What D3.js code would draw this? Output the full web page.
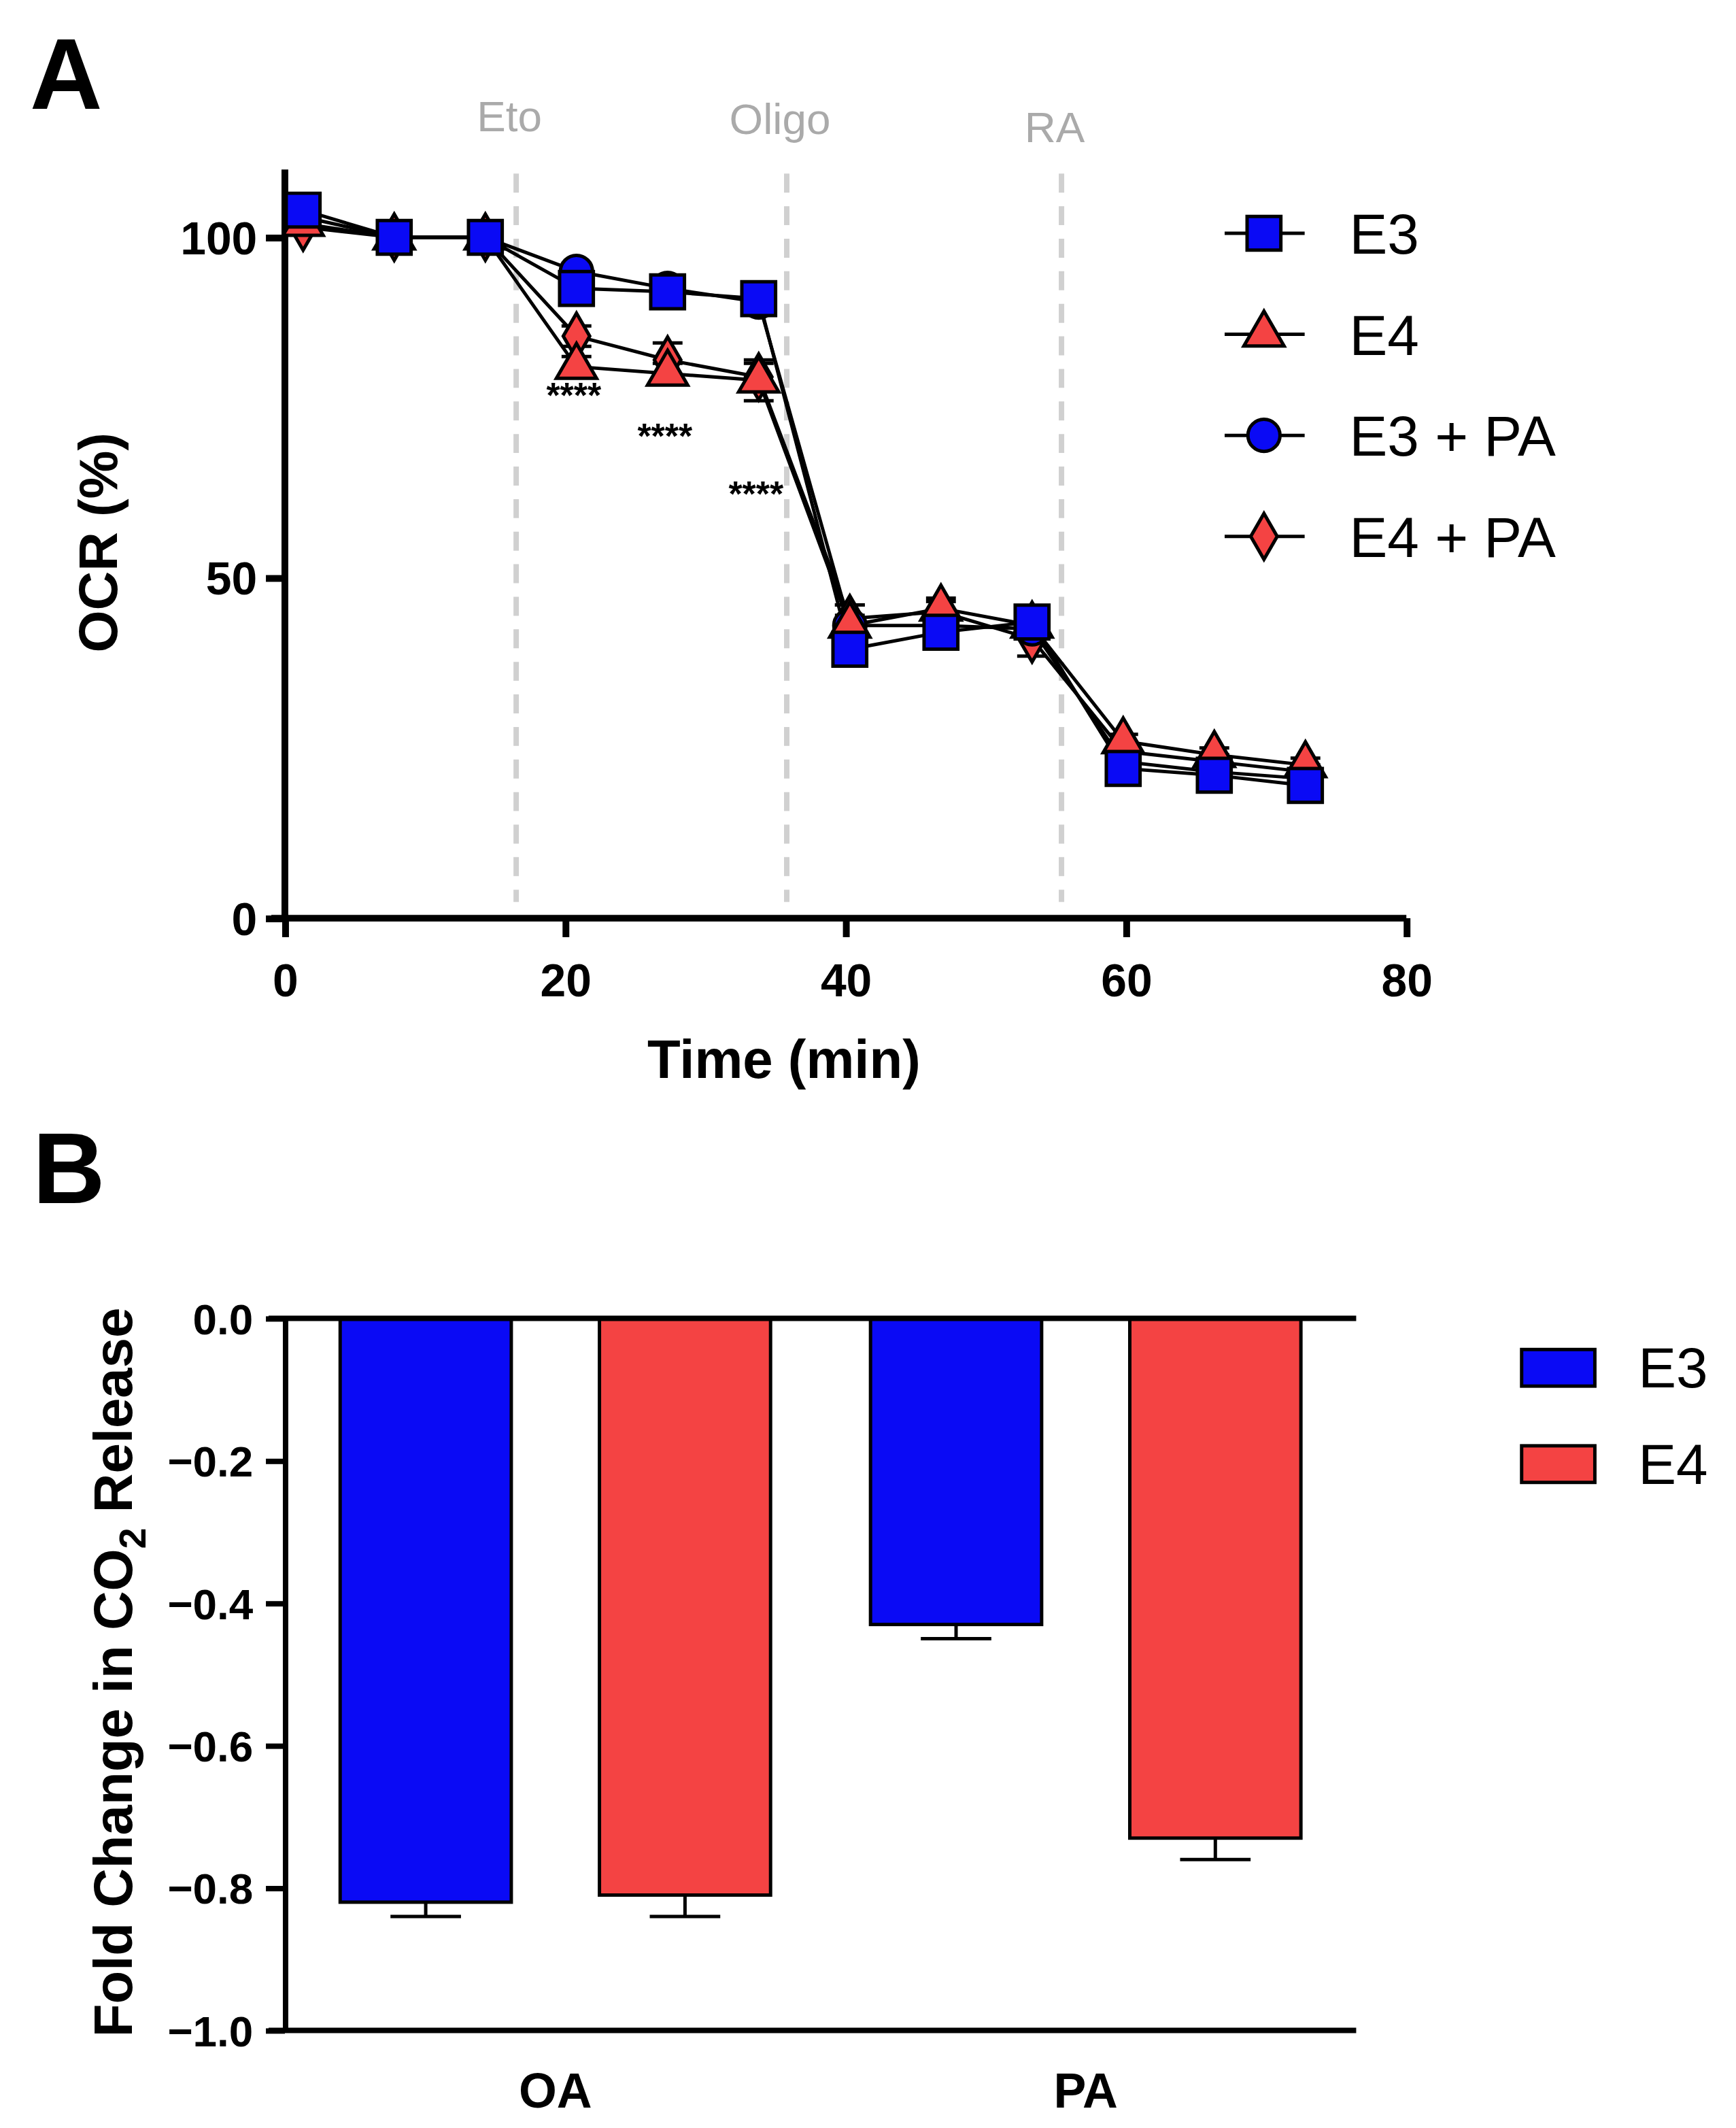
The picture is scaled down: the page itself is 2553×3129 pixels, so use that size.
<!DOCTYPE html>
<html><head><meta charset="utf-8">
<script src="https://cdn.jsdelivr.net/npm/d3@7"></script>
<style>body{margin:0;background:#fff}svg{display:block}text{font-family:"Liberation Sans",Arial,sans-serif}</style>
</head><body><svg id="c" width="2553" height="3129" viewBox="0 0 1280 1569"></svg>
<script>
// Panel A data
const times = [1.3, 7.8, 14.3, 20.8, 27.3, 33.8, 40.3, 46.8, 53.3, 59.8, 66.3, 72.8];
const e3 = [104, 100, 100, 92.5, 92, 91, 39.5, 42, 43.5, 22, 21, 19.5];
const e4 = [102, 100, 100, 81, 80, 79, 43, 45.5, 43, 26, 24, 22.5];
const e3pa = [103, 100, 100, 95, 92.5, 90.5, 43, 43, 42.5, 23, 21.5, 20.5];
const e4pa = [101.5, 100, 100, 85.5, 82, 79.5, 44, 45, 41, 24.5, 23, 21.5];
const e3err = [1, 1, 0.5, 1, 1, 1, 1.5, 1, 1.5, 1, 1, 1];
const e4err = [1, 1, 0.5, 1.5, 1.5, 3, 3, 1.5, 1.5, 1, 1, 1];
const e3paErr = [1, 2, 0.5, 1, 1.5, 1, 1.5, 1, 1, 1, 1, 1];
const e4paErr = [1, 1, 0.5, 1.5, 2.5, 2, 2, 1.5, 2.5, 1, 1, 1];
const injections = [{t: 16.5, label: "Eto", dy: 0}, {t: 35.8, label: "Oligo", dy: 2}, {t: 55.4, label: "RA", dy: 8}];
const stars = [{t: 20.8, v: 75}, {t: 27.3, v: 69}, {t: 33.8, v: 60.5}];
// Panel B data
const groups = ["OA", "PA"];
const barSeries = ["E3", "E4"];
const barValues = [[-0.82, -0.81], [-0.43, -0.73]];
const barErrors = [[0.02, 0.03], [0.02, 0.03]];

const svg = d3.select("#c");
const blue = "#0a0af5", red = "#f44343";

// ---------- Panel A ----------
const x = d3.scaleLinear().domain([0, 80]).range([210, 1037]);
const y = d3.scaleLinear().domain([0, 100]).range([677, 175]);
const gA = svg.append("g");
gA.append("text").attr("x", 22).attr("y", 80).attr("font-size", 74).attr("font-weight", "bold").text("A");

injections.forEach(d => {
  gA.append("line").attr("x1", x(d.t)).attr("x2", x(d.t)).attr("y1", 128).attr("y2", 665)
    .attr("stroke", "#d0d0d0").attr("stroke-width", 4).attr("stroke-dasharray", "14,10");
  gA.append("text").attr("x", x(d.t) - 5).attr("y", 97 + d.dy).attr("text-anchor", "middle")
    .attr("font-size", 32).attr("fill", "#aaaaaa").text(d.label);
});

const xAxis = gA.append("g").attr("transform", "translate(0,677)")
  .call(d3.axisBottom(x).tickValues([0, 20, 40, 60, 80]).tickSize(14).tickSizeOuter(0));
const yAxis = gA.append("g").attr("transform", "translate(210,0)")
  .call(d3.axisLeft(y).tickValues([0, 50, 100]).tickSize(14).tickSizeOuter(0));
[xAxis, yAxis].forEach(a => {
  a.select(".domain").attr("stroke-width", 5);
  a.selectAll(".tick line").attr("stroke-width", 5);
  a.selectAll("text").attr("font-size", 34).attr("font-weight", "bold").attr("fill", "#000");
});
yAxis.select(".domain").attr("d", "M210,125V677").attr("transform", "translate(-210,0)");
xAxis.select(".domain").attr("d", "M200,0H1037");
xAxis.selectAll("text").attr("dy", "1.2em");
yAxis.selectAll("text").attr("dx", "-0.1em").attr("dy", "0.35em");
gA.append("text").attr("x", 578).attr("y", 795).attr("text-anchor", "middle").attr("font-size", 40).attr("font-weight", "bold").text("Time (min)");
gA.append("text").attr("transform", "translate(86,400) rotate(-90)").attr("text-anchor", "middle").attr("font-size", 40).attr("font-weight", "bold").text("OCR (%)");

const series = [
  {name: "E4 + PA", v: e4pa, e: e4paErr, sym: d3.symbolDiamond, size: 330, fill: red},
  {name: "E3 + PA", v: e3pa, e: e3paErr, sym: d3.symbolCircle, size: 440, fill: blue},
  {name: "E4", v: e4, e: e4err, sym: d3.symbolTriangle, size: 380, fill: red},
  {name: "E3", v: e3, e: e3err, sym: d3.symbolSquare, size: 620, fill: blue}
];
const line = d3.line().x(d => x(d[0])).y(d => y(d[1]));
series.forEach(s => {
  const pts = times.map((t, i) => [t, s.v[i], s.e[i]]);
  gA.append("path").attr("d", line(pts)).attr("fill", "none").attr("stroke", "#000").attr("stroke-width", 2.5);
  pts.forEach(p => {
    gA.append("path").attr("d", `M${x(p[0])},${y(p[1] + p[2])}V${y(p[1] - p[2])}M${x(p[0]) - 11},${y(p[1] + p[2])}H${x(p[0]) + 11}M${x(p[0]) - 11},${y(p[1] - p[2])}H${x(p[0]) + 11}`)
      .attr("stroke", "#000").attr("stroke-width", 2.5);
  });
});
series.forEach(s => {
  times.forEach((t, i) => {
    gA.append("path").attr("d", d3.symbol(s.sym, s.size)()).attr("transform", `translate(${x(t)},${y(s.v[i])})`)
      .attr("fill", s.fill).attr("stroke", "#000").attr("stroke-width", 2.5);
  });
});
stars.forEach(d => {
  gA.append("text").attr("x", x(d.t) - 2).attr("y", y(d.v)).attr("text-anchor", "middle").attr("font-size", 26).attr("font-weight", "bold").text("****");
});
const legendA = ["E3", "E4", "E3 + PA", "E4 + PA"].map(n => series.find(s => s.name === n));
legendA.forEach((s, i) => {
  const ly = 172 + i * 74.5;
  gA.append("line").attr("x1", 903).attr("x2", 962).attr("y1", ly).attr("y2", ly).attr("stroke", "#000").attr("stroke-width", 2.5);
  gA.append("path").attr("d", d3.symbol(s.sym, s.size)()).attr("transform", `translate(932,${ly})`)
    .attr("fill", s.fill).attr("stroke", "#000").attr("stroke-width", 2.5);
  gA.append("text").attr("x", 995).attr("y", ly + 15).attr("font-size", 42).text(s.name);
});

// ---------- Panel B ----------
const gB = svg.append("g");
gB.append("text").attr("x", 24).attr("y", 887).attr("font-size", 74).attr("font-weight", "bold").text("B");
const yb = d3.scaleLinear().domain([-1, 0]).range([1497, 972]);
const x0 = d3.scaleBand().domain(groups).range([210, 1000]).paddingInner(0.12).paddingOuter(0.07);
const x1 = d3.scaleBand().domain(barSeries).range([0, x0.bandwidth()]).paddingInner(0.34).paddingOuter(0.07);
const barFill = {E3: blue, E4: red};

groups.forEach((g, gi) => {
  barSeries.forEach((s, si) => {
    const v = barValues[gi][si], e = barErrors[gi][si];
    const bx = x0(g) + x1(s), cx = bx + x1.bandwidth() / 2;
    gB.append("path").attr("d", `M${cx},${yb(v)}V${yb(v - e)}M${cx - 26},${yb(v - e)}H${cx + 26}`).attr("stroke", "#000").attr("stroke-width", 2.5);
    gB.append("rect").attr("x", bx).attr("y", yb(0)).attr("width", x1.bandwidth()).attr("height", yb(v) - yb(0))
      .attr("fill", barFill[s]).attr("stroke", "#000").attr("stroke-width", 2.5);
  });
});
const ybAxis = gB.append("g").attr("transform", "translate(210,0)")
  .call(d3.axisLeft(yb).tickValues([0, -0.2, -0.4, -0.6, -0.8, -1.0]).tickFormat(d3.format(".1f")).tickSize(14).tickSizeOuter(0));
ybAxis.select(".domain").attr("stroke-width", 4);
ybAxis.selectAll(".tick line").attr("stroke-width", 4);
ybAxis.selectAll("text").attr("font-size", 32).attr("font-weight", "bold").attr("fill", "#000").attr("dx", "-0.2em").attr("dy", "0.35em");
gB.append("line").attr("x1", 198).attr("x2", 1000).attr("y1", yb(0)).attr("y2", yb(0)).attr("stroke", "#000").attr("stroke-width", 4);
gB.append("line").attr("x1", 198).attr("x2", 1000).attr("y1", yb(-1)).attr("y2", yb(-1)).attr("stroke", "#000").attr("stroke-width", 4);
groups.forEach(g => {
  gB.append("text").attr("x", x0(g) + x0.bandwidth() / 2).attr("y", 1554).attr("text-anchor", "middle").attr("font-size", 36).attr("font-weight", "bold").text(g);
});
const yt = gB.append("text").attr("transform", "translate(97,1233) rotate(-90)").attr("text-anchor", "middle").attr("font-size", 40).attr("font-weight", "bold");
yt.append("tspan").text("Fold  Change in CO");
yt.append("tspan").attr("font-size", 28).attr("dy", 10).text("2");
yt.append("tspan").attr("dy", -10).text(" Release");
barSeries.forEach((s, i) => {
  const ly = 1008 + i * 71;
  gB.append("rect").attr("x", 1122).attr("y", ly - 13).attr("width", 54).attr("height", 27).attr("fill", barFill[s]).attr("stroke", "#000").attr("stroke-width", 2.5);
  gB.append("text").attr("x", 1208).attr("y", ly + 15).attr("font-size", 42).text(s);
});
</script></body></html>
